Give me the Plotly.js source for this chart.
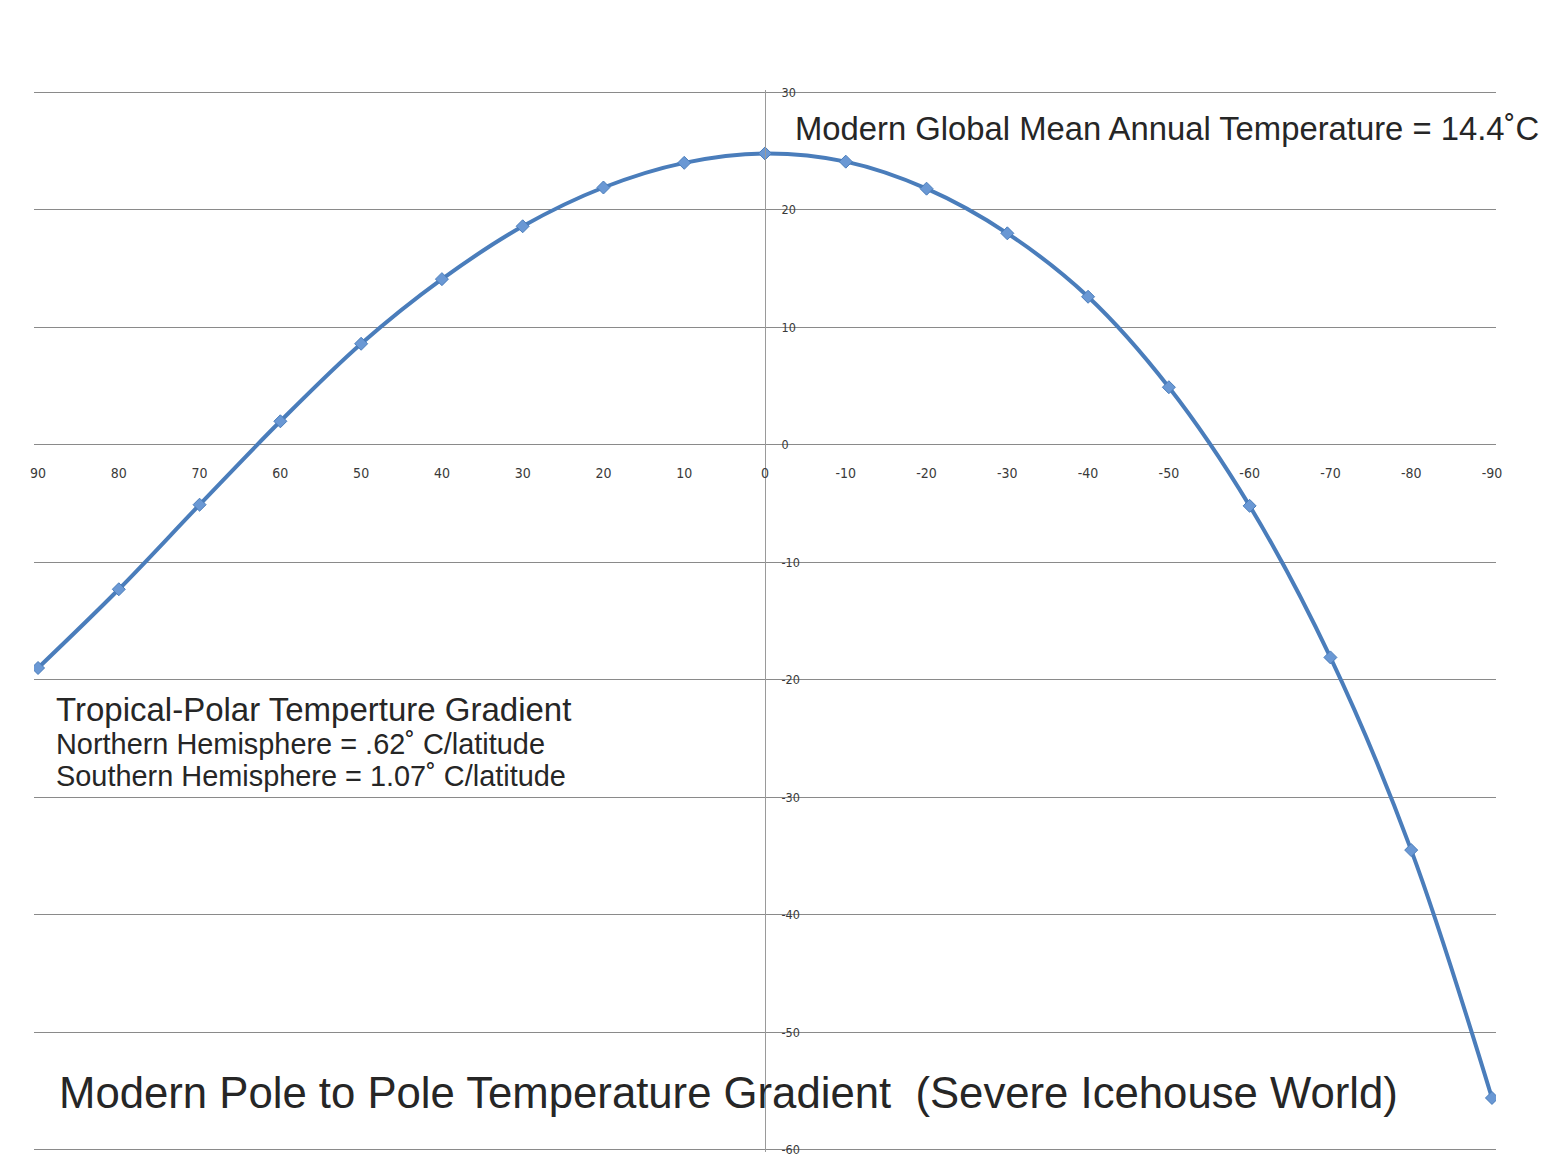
<!DOCTYPE html>
<html>
<head>
<meta charset="utf-8">
<script src="https://cdn.plot.ly/plotly-3.0.1.min.js"></script>
<style>html,body{margin:0;padding:0;background:#fff;}#chart{width:1551px;height:1159px;}</style>
</head>
<body>
<div id="chart"></div>
<script>
// Latitude (degrees, north positive) and mean annual temperature (°C)
const latitude = [90, 80, 70, 60, 50, 40, 30, 20, 10, 0, -10, -20, -30, -40, -50, -60, -70, -80, -90];
const temperature = [-19.0, -12.3, -5.1, 2.0, 8.6, 14.1, 18.6, 21.9, 24.0, 24.8, 24.1, 21.8, 18.0, 12.6, 4.9, -5.2, -18.1, -34.5, -55.6];

const xTickVals = [90, 80, 70, 60, 50, 40, 30, 20, 10, 0, -10, -20, -30, -40, -50, -60, -70, -80, -90];
const xTickText = ["90", "80", "70", "60", "50", "40", "30", "20", "10", "0", "-10", "-20", "-30", "-40", "-50", "-60", "-70", "-80", "-90"];
const yTickVals = [30, 20, 10, 0, -10, -20, -30, -40, -50, -60];
const yTickText = ["30", "20", "10", "0", "-10", "-20", "-30", "-40", "-50", "-60"];

const topNote = "Modern Global Mean Annual Temperature = 14.4˚C";
const gradientTitle = "Tropical-Polar Temperture Gradient";
const northNote = "Northern Hemisphere = .62˚ C/latitude";
const southNote = "Southern Hemisphere = 1.07˚ C/latitude";
const chartTitle = "Modern Pole to Pole Temperature Gradient&nbsp;&nbsp;(Severe Icehouse World)";

const textFont = "Liberation Sans";
const tickFontFamily = "DejaVu Sans Condensed";
const textColor = "#262626";

const trace = {
  x: latitude,
  y: temperature,
  type: "scatter",
  mode: "lines+markers",
  line: {color: "#4a7dbb", width: 4, shape: "spline", smoothing: 1},
  marker: {symbol: "diamond", size: 10, color: "#6a98d4", line: {color: "#4a7dbb", width: 1}},
  hoverinfo: "x+y"
};

const layout = {
  width: 1551,
  height: 1159,
  margin: {l: 34, r: 55, t: 90, b: 7},
  paper_bgcolor: "#ffffff",
  plot_bgcolor: "#ffffff",
  showlegend: false,
  xaxis: {
    range: [90.5, -90.5],
    anchor: "free",
    position: 60.2 / 90.4,
    side: "bottom",
    tickmode: "array",
    tickvals: xTickVals,
    ticktext: xTickText,
    ticks: "",
    ticklabelstandoff: 18,
    tickfont: {family: tickFontFamily, size: 14, color: "#3a3a3a"},
    showgrid: false,
    zeroline: false,
    showline: false
  },
  yaxis: {
    range: [-60.2, 30.2],
    anchor: "free",
    position: 0.5,
    side: "right",
    tickmode: "array",
    tickvals: yTickVals,
    ticktext: yTickText,
    ticks: "",
    ticklabelstandoff: 13,
    tickfont: {family: tickFontFamily, size: 12.5, color: "#3a3a3a"},
    showgrid: true,
    gridcolor: "#8a8a8a",
    gridwidth: 1,
    zeroline: false,
    showline: true,
    linecolor: "#9a9a9a",
    linewidth: 1
  },
  annotations: [
    {x: -3.5, y: 26.95, xref: "x", yref: "y", xanchor: "left", yanchor: "middle", showarrow: false,
     text: topNote, font: {family: textFont, size: 32.8, color: textColor}},
    {x: 88.0, y: -22.56, xref: "x", yref: "y", xanchor: "left", yanchor: "middle", showarrow: false,
     text: gradientTitle, font: {family: textFont, size: 33, color: textColor}},
    {x: 88.0, y: -25.45, xref: "x", yref: "y", xanchor: "left", yanchor: "middle", showarrow: false,
     text: northNote, font: {family: textFont, size: 28.9, color: textColor}},
    {x: 88.0, y: -28.17, xref: "x", yref: "y", xanchor: "left", yanchor: "middle", showarrow: false,
     text: southNote, font: {family: textFont, size: 28.9, color: textColor}},
    {x: 87.6, y: -55.14, xref: "x", yref: "y", xanchor: "left", yanchor: "middle", showarrow: false,
     text: chartTitle, font: {family: textFont, size: 43.7, color: textColor}}
  ]
};

Plotly.newPlot("chart", [trace], layout, {displayModeBar: false, staticPlot: true});
</script>
</body>
</html>
